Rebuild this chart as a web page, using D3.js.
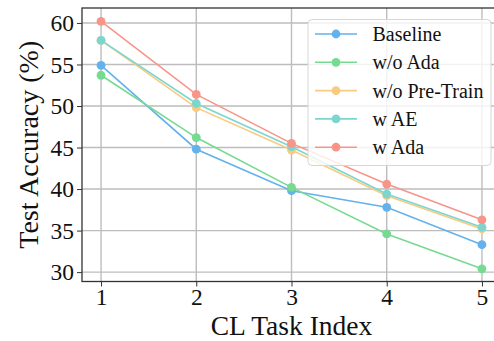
<!DOCTYPE html>
<html>
<head>
<meta charset="utf-8">
<script src="https://cdn.jsdelivr.net/npm/d3@7"></script>
<style>
  html, body { margin: 0; padding: 0; background: #fff; }
  svg { display: block; font-family: "Liberation Serif", "Times New Roman", serif; }
</style>
</head>
<body>
<svg id="chart" width="494" height="341"></svg>
<script>
const tasks = [1, 2, 3, 4, 5];
const seriesNames = ["Baseline", "w/o Ada", "w/o Pre-Train", "w AE", "w Ada"];
const baseline   = [54.9, 44.8, 39.8, 37.8, 33.3];
const woAda      = [53.7, 46.2, 40.2, 34.6, 30.4];
const woPreTrain = [57.9, 49.8, 44.7, 39.2, 35.2];
const wAE        = [57.9, 50.3, 45.1, 39.4, 35.4];
const wAda       = [60.2, 51.4, 45.5, 40.6, 36.3];
const colors = ["#63b2ee", "#76da91", "#f8cb7f", "#7cd6cf", "#f89588"];
const yTicks = [30, 35, 40, 45, 50, 55, 60];
const xTicks = [1, 2, 3, 4, 5];
const xLabel = "CL Task Index";
const yLabel = "Test Accuracy (%)";

const series = [baseline, woAda, woPreTrain, wAE, wAda].map((vals, i) => ({
  name: seriesNames[i], color: colors[i],
  points: vals.map((v, j) => ({ x: tasks[j], y: v }))
}));

const svg = d3.select("#chart");
const L = 82, R = 501, T = 8, B = 281.5;
const x = d3.scaleLinear().domain([0.8, 5.2]).range([L, R]);
const y = d3.scaleLinear().domain([28.87, 61.8]).range([B, T]);

svg.append("defs").append("clipPath").attr("id", "plotclip")
  .append("rect").attr("x", L).attr("y", T).attr("width", R - L).attr("height", B - T);

// grid
const grid = svg.append("g");
grid.selectAll(".hg").data(yTicks).join("line")
  .attr("x1", L).attr("x2", R).attr("y1", d => y(d)).attr("y2", d => y(d))
  .attr("stroke", "#bdbdbd").attr("stroke-width", 1.4);
grid.selectAll(".vg").data(xTicks).join("line")
  .attr("y1", T).attr("y2", B).attr("x1", d => x(d)).attr("x2", d => x(d))
  .attr("stroke", "#bdbdbd").attr("stroke-width", 1.4);

// lines
const line = d3.line().x(d => x(d.x)).y(d => y(d.y));
const plot = svg.append("g").attr("clip-path", "url(#plotclip)");
series.forEach(s => {
  plot.append("path").datum(s.points).attr("d", line)
    .attr("fill", "none").attr("stroke", s.color).attr("stroke-width", 1.6);
});
series.forEach(s => {
  plot.selectAll(null).data(s.points).join("circle")
    .attr("cx", d => x(d.x)).attr("cy", d => y(d.y)).attr("r", 4.4)
    .attr("fill", s.color);
});

// axes
const yAxis = d3.axisLeft(y).tickValues(yTicks).tickSize(5).tickPadding(3).tickFormat(d3.format("d"));
const xAxis = d3.axisBottom(x).tickValues(xTicks).tickSize(5).tickPadding(2).tickFormat(d3.format("d"));
const gy = svg.append("g").attr("transform", `translate(${L},0)`).call(yAxis);
const gx = svg.append("g").attr("transform", `translate(0,${B})`).call(xAxis);
[gx, gy].forEach(g => {
  g.select(".domain").remove();
  g.selectAll(".tick line").attr("stroke", "#333").attr("stroke-width", 1);
  g.selectAll(".tick text").attr("fill", "#111")
    .style("font-family", "'Liberation Serif', serif").style("font-size", "23.5px");
});

// spines
svg.append("rect").attr("x", L).attr("y", T).attr("width", R - L).attr("height", B - T)
  .attr("fill", "none").attr("stroke", "#333").attr("stroke-width", 1.3);

// axis labels
svg.append("text").attr("x", (L + R) / 2).attr("y", 335)
  .attr("text-anchor", "middle").style("font-size", "27.5px").attr("fill", "#111").text(xLabel);
svg.append("text").attr("transform", `translate(38,${(T + B) / 2}) rotate(-90)`)
  .attr("text-anchor", "middle").style("font-size", "28px").attr("fill", "#111").text(yLabel);

// legend
const lg = svg.append("g");
lg.append("rect").attr("x", 308).attr("y", 19.5).attr("width", 183).attr("height", 146)
  .attr("rx", 4).attr("fill", "#fff").attr("fill-opacity", 0.8)
  .attr("stroke", "#d6d6d6").attr("stroke-width", 1);
series.forEach((s, i) => {
  const cy = 34 + i * 28.3;
  lg.append("line").attr("x1", 315).attr("x2", 357).attr("y1", cy).attr("y2", cy)
    .attr("stroke", s.color).attr("stroke-width", 1.6);
  lg.append("circle").attr("cx", 336).attr("cy", cy).attr("r", 4.4).attr("fill", s.color);
  lg.append("text").attr("x", 372.5).attr("y", cy).attr("dy", "0.35em")
    .style("font-size", "20px").attr("fill", "#111").text(s.name);
});
</script>
</body>
</html>
